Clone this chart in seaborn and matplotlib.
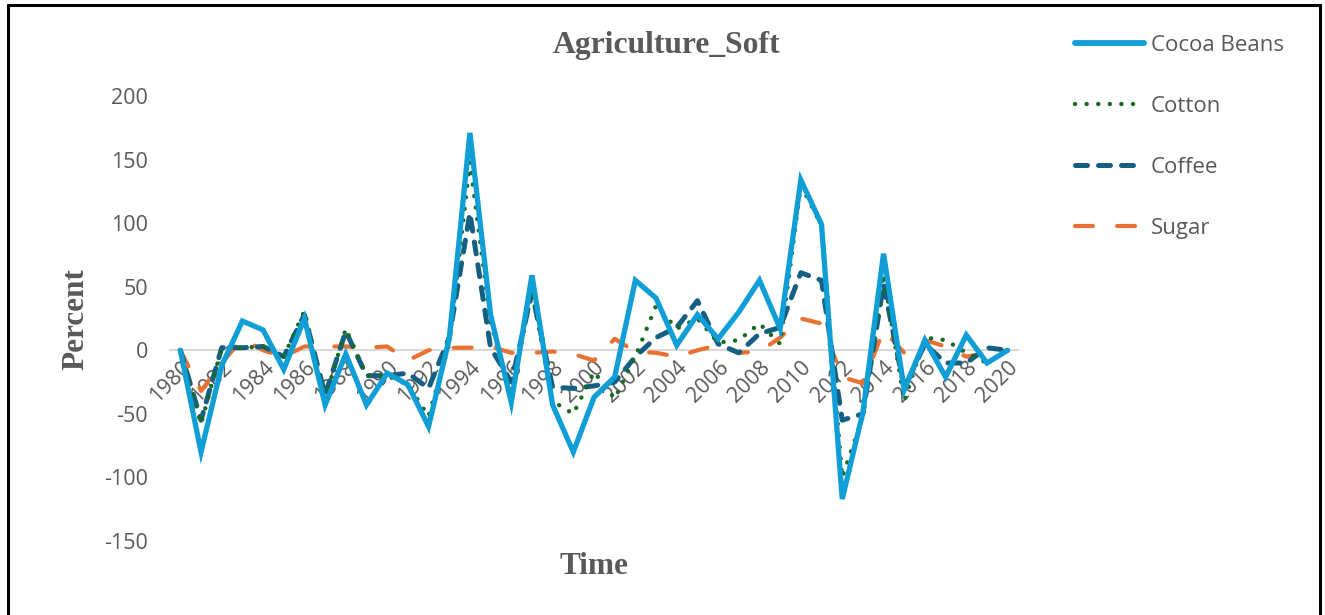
import matplotlib
matplotlib.use("Agg")
import matplotlib.pyplot as plt
import seaborn as sns
import numpy as np
from matplotlib.lines import Line2D

years = list(range(1980, 2021))
cocoa = [0, -80, -12, 23, 16, -15, 25, -43, -3, -43,
         -18, -27, -60, 9, 171, 28, -41, 59, -43, -80,
         -37, -21, 55, 41, 4, 28, 9, 30, 55, 17,
         134, 99, -117, -49, 76, -31, 8, -21, 12, -10, 0]
cotton = [0, -58, 2, 2, 3, -5, 31, -38, 17, -20,
          -20, -27, -52, 5, 148, 22, -35, 47, -40, -50,
          -17, -38, -5, 35, 17, 25, 6, 8, 21, 5,
          130, 98, -100, -52, 60, -40, 10, 8, -2, -10, 0]
coffee = [0, -55, 2, 2, 3, -5, 28, -35, 15, -20,
          -20, -18, -30, 10, 108, 2, -25, 45, -29, -30,
          -28, -25, -5, 10, 18, 39, 5, -2, 13, 18,
          61, 55, -55, -50, 52, -30, 5, -10, -10, 2, 0]
sugar = [0, -32, -10, 9, 0, -5, 3, 3, 3, 2,
         3, -8, 0, 2, 2, 3, -2, -2, -1, -3,
         -8, 9, -1, -2, -5, 0, 4, -2, -1, 10,
         25, 21, -21, -26, 16, -2, 8, 3, -5, -2, 0]
series_names = ["Cocoa Beans", "Cotton", "Coffee", "Sugar"]
xtick_labels = [str(y) for y in range(1980, 2021, 2)]
yticks = [-150, -100, -50, 0, 50, 100, 150, 200]

sns.set_theme(style="white")
plt.rcParams['font.family'] = ['Open Sans', 'DejaVu Sans']

W, H = 1325, 615
fig = plt.figure(figsize=(W / 100, H / 100), dpi=100)
ax = fig.add_axes([170 / W, 1 - 541 / H, 848 / W, (541 - 96) / H])

c_cocoa, c_cotton, c_coffee, c_sugar = "#0F9ED5", "#196B24", "#156082", "#E97132"
ls_cotton = (0, (0.01, 2.6))
ls_coffee = (0, (2.4, 2.2))
ls_sugar = (0, (4.3, 5.8))

sns.lineplot(x=years, y=sugar, ax=ax, color=c_sugar, lw=3.0,
             linestyle=ls_sugar, dash_capstyle='round', zorder=2)
sns.lineplot(x=years, y=coffee, ax=ax, color=c_coffee, lw=3.6,
             linestyle=ls_coffee, dash_capstyle='round', zorder=3)
sns.lineplot(x=years, y=cotton, ax=ax, color=c_cotton, lw=3.2,
             linestyle=ls_cotton, dash_capstyle='round', zorder=4)
sns.lineplot(x=years, y=cocoa, ax=ax, color=c_cocoa, lw=3.8,
             solid_capstyle='round', solid_joinstyle='miter', zorder=5)

ax.set_xlim(1979.5, 2020.5)
ax.set_ylim(-150, 200)
ax.set_yticks(yticks)
ax.set_yticklabels([str(v) for v in yticks])
ax.set_xticks(list(range(1980, 2021, 2)))
ax.set_xticklabels(xtick_labels)
for s in ['left', 'right', 'top']:
    ax.spines[s].set_visible(False)
ax.spines['bottom'].set_position(('data', 0))
ax.spines['bottom'].set_color('#D9D9D9')
ax.spines['bottom'].set_linewidth(1.5)
ax.spines['bottom'].set_zorder(1)
ax.tick_params(axis='both', length=0, labelsize=15.5, labelcolor='#595959')
ax.tick_params(axis='y', pad=16)
ax.tick_params(axis='x', pad=5)
ax.set_xlabel("")
ax.set_ylabel("")
ax.grid(False)
ax.patch.set_alpha(0)
plt.setp(ax.get_xticklabels(), rotation=45, ha='right', rotation_mode='anchor')

serif = ['Liberation Serif', 'DejaVu Serif']
fig.text(667 / W, 1 - 45 / H, "Agriculture_Soft", family=serif, weight='bold',
         size=22.8, color='#595959', ha='center', va='center')
fig.text(594 / W, 1 - 566 / H, "Time", family=serif, weight='bold',
         size=22.5, color='#595959', ha='center', va='center')
fig.text(76 / W, 1 - 319 / H, "Percent", family=serif, weight='bold',
         size=22.5, color='#595959', ha='center', va='center', rotation=90)

handles = [
    Line2D([], [], color=c_cocoa, lw=4.2, solid_capstyle='round'),
    Line2D([], [], color=c_cotton, lw=3.2, linestyle=ls_cotton, dash_capstyle='round'),
    Line2D([], [], color=c_coffee, lw=3.6, linestyle=ls_coffee, dash_capstyle='round'),
    Line2D([], [], color=c_sugar, lw=3.0, linestyle=ls_sugar, dash_capstyle='round'),
]
leg = fig.legend(handles, series_names, loc='upper left',
                 bbox_to_anchor=(1075 / W, 1 - 35 / H), frameon=False,
                 fontsize=16, handlelength=3.1, handletextpad=0.3,
                 labelspacing=1.8, borderaxespad=0, borderpad=0)
for t in leg.get_texts():
    t.set_color('#595959')

# chart border
kw = dict(color='black', lw=2.2, transform=fig.transFigure, clip_on=False)
fig.add_artist(Line2D([8 / W, 8 / W], [0, 1 - 5 / H], **kw))
fig.add_artist(Line2D([8 / W, 1320 / W], [1 - 5 / H, 1 - 5 / H], **kw))
fig.add_artist(Line2D([1320 / W, 1320 / W], [0, 1 - 5 / H], **kw))

fig.savefig("out.png", dpi=100, facecolor='white')
